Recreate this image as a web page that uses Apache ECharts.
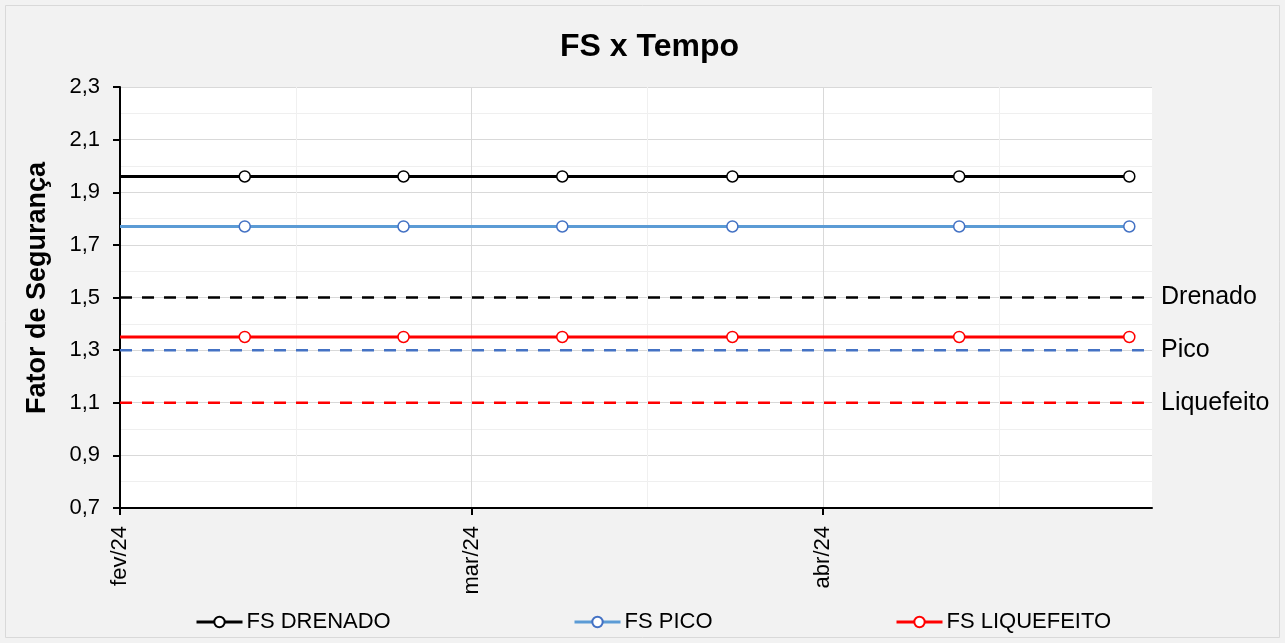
<!DOCTYPE html>
<html>
<head>
<meta charset="utf-8">
<title>FS x Tempo</title>
<script src="https://cdn.jsdelivr.net/npm/echarts@6/dist/echarts.min.js"></script>
<style>
  html, body { margin: 0; padding: 0; background: #ffffff; }
  #fs-chart-div { width: 1285px; height: 643px; }
</style>
</head>
<body>
<div id="fs-chart-div"></div>
<script>
// dados
const axisStart = '2024-02-01';
const axisEnd = '2024-05-02';
const datas = ['2024-02-12', '2024-02-26', '2024-03-11', '2024-03-26', '2024-04-15', '2024-04-30'];
const fsDrenado = [1.96, 1.96, 1.96, 1.96, 1.96, 1.96];
const fsPico = [1.77, 1.77, 1.77, 1.77, 1.77, 1.77];
const fsLiquefeito = [1.35, 1.35, 1.35, 1.35, 1.35, 1.35];
const limiteNomes = ['Drenado', 'Pico', 'Liquefeito'];
const limiteValores = [1.5, 1.3, 1.1];
const meses = ['jan', 'fev', 'mar', 'abr', 'mai', 'jun', 'jul', 'ago', 'set', 'out', 'nov', 'dez'];

const DAY = 86400000;
const t0 = Date.parse(axisStart);
function dia(d) { return (Date.parse(d) - t0) / DAY; }
const xMax = dia(axisEnd);

function serieFS(valores) {
    // primeiro ponto no inicio do eixo, sem marcador
    const out = [{ value: [0, valores[0]], symbol: 'none' }];
    for (let i = 0; i < datas.length; i++) {
        out.push([dia(datas[i]), valores[i]]);
    }
    return out;
}

const fonte = '"Liberation Sans", Arial, sans-serif';

var fs_chartDom = document.getElementById('fs-chart-div');
var fs_myChart = echarts.init(fs_chartDom);
var fs_option;

const coresLimite = ['#000000', '#4472C4', '#FF0000'];
const limiteSeries = limiteNomes.map(function (nome, i) {
    return {
        name: nome,
        type: 'line',
        xAxisIndex: 1,
        symbol: 'none',
        silent: true,
        z: 1,
        lineStyle: { color: coresLimite[i], width: 2.5, type: [12, 10] },
        endLabel: {
            show: true,
            formatter: '{a}',
            color: '#000',
            fontSize: 25,
            fontFamily: fonte,
            distance: 9
        },
        data: [[0, limiteValores[i]], [xMax, limiteValores[i]]]
    };
});

function legenda(nome, left) {
    return {
        data: [nome],
        left: left,
        top: 611,
        itemWidth: 46,
        itemHeight: 13,
        itemGap: 0,
        padding: 0,
        selectedMode: false,
        lineStyle: { width: 3 },
        textStyle: { fontSize: 22, color: '#000', fontFamily: fonte, padding: [0, 0, 0, -1] }
    };
}

fs_option = {
    backgroundColor: '#f2f2f2',
    animation: false,
    title: {
        text: 'FS x Tempo',
        left: 555,
        top: 26,
        textStyle: { fontSize: 32, fontWeight: 'bold', color: '#000', fontFamily: fonte }
    },
    graphic: [
        {
            type: 'rect',
            shape: { x: 5.5, y: 5.5, width: 1274, height: 632 },
            style: { fill: 'transparent', stroke: '#d9d9d9', lineWidth: 1 },
            silent: true
        },
        {
            type: 'text',
            x: 38,
            y: 288,
            rotation: Math.PI / 2,
            style: {
                text: 'Fator de Segurança',
                font: 'bold 27px "Liberation Sans", Arial, sans-serif',
                fill: '#000',
                align: 'center',
                verticalAlign: 'middle'
            },
            silent: true
        }
    ],
    legend: [
        legenda('FS DRENADO', 195),
        legenda('FS PICO', 573),
        legenda('FS LIQUEFEITO', 895)
    ],
    grid: {
        left: 120,
        right: 133,
        top: 87,
        bottom: 135,
        show: true,
        backgroundColor: '#ffffff',
        borderWidth: 0
    },
    xAxis: [
        {
            // linhas de grade secundarias (15,5 dias)
            type: 'value',
            position: 'bottom',
            min: 0,
            max: xMax,
            interval: 15.5,
            axisLine: { show: false },
            axisTick: { show: false },
            axisLabel: { show: false },
            splitLine: { show: true, showMaxLine: false, lineStyle: { color: '#f0f0f0', width: 1 } }
        },
        {
            type: 'value',
            position: 'bottom',
            min: 0,
            max: xMax,
            interval: 31,
            axisLine: { show: true, onZero: false, lineStyle: { color: '#000', width: 2 } },
            axisTick: { show: true, inside: false, length: 7, lineStyle: { color: '#000', width: 2 } },
            axisLabel: {
                rotate: 90,
                margin: 18,
                fontSize: 22,
                color: '#000',
                fontFamily: fonte,
                showMaxLabel: false,
                formatter: function (v) {
                    const d = new Date(t0 + v * DAY);
                    return meses[d.getUTCMonth()] + '/' + String(d.getUTCFullYear()).slice(2);
                }
            },
            splitLine: { show: true, showMaxLine: false, lineStyle: { color: '#d9d9d9', width: 1 } }
        }
    ],
    yAxis: {
        type: 'value',
        min: 0.7,
        max: 2.3,
        interval: 0.2,
        axisLine: { show: true, lineStyle: { color: '#000', width: 2 } },
        axisTick: { show: true, inside: false, length: 7, lineStyle: { color: '#000', width: 2 } },
        axisLabel: {
            margin: 20,
            fontSize: 22,
            color: '#000',
            fontFamily: fonte,
            formatter: function (v) { return v.toFixed(1).replace('.', ','); }
        },
        splitLine: { show: true, lineStyle: { color: '#d9d9d9', width: 1 } },
        minorTick: { show: false, splitNumber: 2 },
        minorSplitLine: { show: true, lineStyle: { color: '#efefef', width: 1 } }
    },
    series: limiteSeries.concat([
        {
            name: 'FS DRENADO',
            type: 'line',
            xAxisIndex: 1,
            symbol: 'circle',
            symbolSize: 11,
            z: 3,
            lineStyle: { color: '#000000', width: 3 },
            itemStyle: { color: '#ffffff', borderColor: '#000000', borderWidth: 1.5 },
            data: serieFS(fsDrenado)
        },
        {
            name: 'FS PICO',
            type: 'line',
            xAxisIndex: 1,
            symbol: 'circle',
            symbolSize: 11,
            z: 3,
            lineStyle: { color: '#5B9BD5', width: 3 },
            itemStyle: { color: '#ffffff', borderColor: '#4472C4', borderWidth: 1.5 },
            data: serieFS(fsPico)
        },
        {
            name: 'FS LIQUEFEITO',
            type: 'line',
            xAxisIndex: 1,
            symbol: 'circle',
            symbolSize: 11,
            z: 3,
            lineStyle: { color: '#FF0000', width: 3 },
            itemStyle: { color: '#ffffff', borderColor: '#FF0000', borderWidth: 1.5 },
            data: serieFS(fsLiquefeito)
        }
    ])
};

if (fs_option && typeof fs_option === 'object') {
    fs_myChart.setOption(fs_option);
}
</script>
</body>
</html>
